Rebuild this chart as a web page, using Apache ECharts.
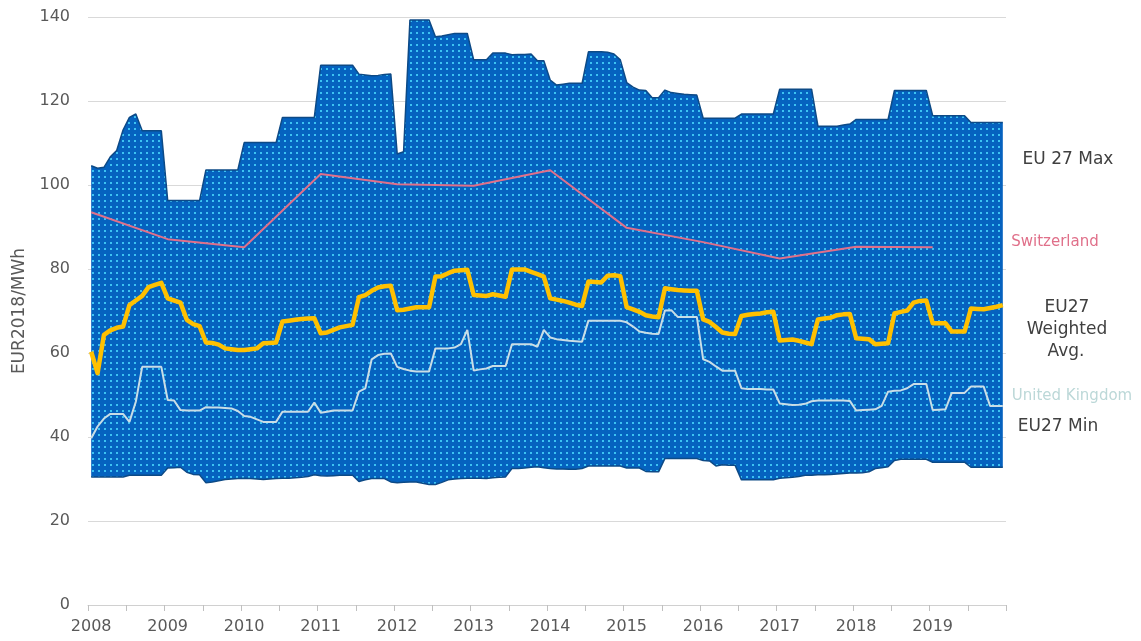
<!DOCTYPE html>
<html>
<head>
<meta charset="utf-8">
<script src="https://cdn.jsdelivr.net/npm/echarts@6/dist/echarts.min.js"></script>
<style>
  body { margin: 0; background: #fff; }
  #main { width: 1141px; height: 641px; }
</style>
</head>
<body>
<div id="main"></div>
<script>
// monthly categories 2008-01 .. 2019-12
const years = [2008, 2009, 2010, 2011, 2012, 2013, 2014, 2015, 2016, 2017, 2018, 2019]
const months = []
years.forEach(y => {
  for (let m = 1; m <= 12; m++) months.push(y + '-' + (m < 10 ? '0' + m : m))
})

// EUR2018/MWh, one row per year
const eu27Max = [
  104.6, 104.0, 104.2, 106.7, 108.2, 113.1, 116.1, 116.9, 112.9, 112.9, 112.9, 112.9,
  96.3, 96.3, 96.3, 96.3, 96.3, 96.3, 103.6, 103.6, 103.6, 103.6, 103.6, 103.6,
  110.1, 110.1, 110.1, 110.1, 110.1, 110.1, 116.1, 116.1, 116.1, 116.1, 116.1, 116.1,
  128.5, 128.5, 128.5, 128.5, 128.5, 128.5, 126.4, 126.2, 126.0, 126.1, 126.3, 126.4,
  107.4, 107.9, 139.3, 139.3, 139.3, 139.3, 135.3, 135.5, 135.8, 136.1, 136.1, 136.1,
  129.8, 129.8, 129.8, 131.4, 131.4, 131.4, 131.0, 131.1, 131.1, 131.2, 129.6, 129.6,
  125.0, 123.8, 124.0, 124.2, 124.2, 124.2, 131.7, 131.7, 131.7, 131.6, 131.2, 129.8,
  124.4, 123.3, 122.6, 122.5, 120.8, 120.8, 122.6, 122.0, 121.8, 121.6, 121.5, 121.4,
  115.9, 115.9, 115.9, 115.9, 115.9, 115.9, 116.9, 116.9, 116.9, 116.9, 116.9, 116.9,
  122.8, 122.8, 122.8, 122.8, 122.8, 122.8, 114.0, 114.0, 114.0, 114.0, 114.3, 114.5,
  115.6, 115.6, 115.6, 115.6, 115.6, 115.6, 122.5, 122.5, 122.5, 122.5, 122.5, 122.5,
  116.5, 116.5, 116.5, 116.5, 116.5, 116.5, 114.9, 114.9, 114.9, 114.9, 114.9, 114.9
]
const eu27Min = [
  30.5, 30.5, 30.5, 30.5, 30.5, 30.5, 30.9, 30.9, 30.9, 30.9, 30.9, 30.9,
  32.6, 32.7, 32.8, 31.6, 31.1, 31.0, 29.1, 29.3, 29.6, 29.9, 30.0, 30.1,
  30.2, 30.1, 30.0, 29.9, 30.0, 30.1, 30.2, 30.2, 30.3, 30.4, 30.6, 31.0,
  30.8, 30.7, 30.8, 30.9, 30.9, 30.9, 29.4, 29.8, 30.1, 30.1, 30.1, 29.3,
  29.1, 29.2, 29.3, 29.3, 29.0, 28.7, 28.7, 29.2, 29.8, 30.0, 30.1, 30.2,
  30.2, 30.2, 30.1, 30.3, 30.4, 30.5, 32.5, 32.5, 32.6, 32.8, 32.9, 32.7,
  32.5, 32.4, 32.4, 32.3, 32.3, 32.5, 33.1, 33.1, 33.1, 33.1, 33.1, 33.1,
  32.6, 32.6, 32.6, 31.8, 31.7, 31.7, 34.9, 34.9, 34.9, 34.9, 34.9, 34.9,
  34.4, 34.3, 33.1, 33.4, 33.3, 33.3, 29.8, 29.8, 29.8, 29.8, 29.8, 29.8,
  30.2, 30.3, 30.4, 30.6, 30.9, 30.9, 31.0, 31.0, 31.1, 31.2, 31.3, 31.4,
  31.4, 31.5, 31.7, 32.5, 32.7, 32.9, 34.4, 34.7, 34.7, 34.7, 34.7, 34.7,
  34.0, 34.0, 34.0, 34.0, 34.0, 34.0, 32.8, 32.8, 32.8, 32.8, 32.8, 32.8
]
const eu27Avg = [
  60.3, 55.2, 64.3, 65.4, 66.0, 66.3, 71.4, 72.5, 73.6, 75.7, 76.2, 76.7,
  73.0, 72.5, 72.0, 67.9, 66.9, 66.4, 62.5, 62.4, 62.0, 61.1, 60.9, 60.7,
  60.7, 60.9, 61.1, 62.3, 62.4, 62.5, 67.5, 67.7, 67.9, 68.1, 68.2, 68.3,
  64.7, 64.9, 65.5, 66.1, 66.4, 66.7, 73.3, 73.8, 74.8, 75.6, 75.9, 76.0,
  70.2, 70.3, 70.6, 70.9, 70.9, 70.9, 78.2, 78.3, 79.0, 79.6, 79.7, 79.8,
  73.8, 73.7, 73.6, 74.0, 73.7, 73.4, 79.9, 79.9, 79.9, 79.3, 78.8, 78.2,
  73.0, 72.7, 72.4, 72.0, 71.5, 71.2, 77.0, 76.9, 76.8, 78.4, 78.5, 78.3,
  70.9, 70.4, 69.8, 69.0, 68.7, 68.5, 75.4, 75.2, 75.0, 74.9, 74.8, 74.8,
  68.0, 67.4, 66.2, 64.9, 64.6, 64.5, 68.8, 69.1, 69.3, 69.4, 69.7, 69.8,
  63.0, 63.1, 63.2, 62.9, 62.5, 62.1, 68.0, 68.2, 68.4, 69.0, 69.2, 69.3,
  63.5, 63.4, 63.3, 62.1, 62.2, 62.3, 69.4, 69.8, 70.1, 72.0, 72.4, 72.5,
  67.1, 67.1, 67.1, 65.1, 65.1, 65.1, 70.6, 70.5, 70.4, 70.7, 71.0, 71.4
]
const ukPrice = [
  39.7, 42.5, 44.4, 45.5, 45.5, 45.5, 43.6, 48.4, 56.7, 56.7, 56.7, 56.7,
  48.8, 48.7, 46.4, 46.3, 46.3, 46.3, 47.1, 47.0, 47.0, 46.9, 46.8, 46.2,
  45.0, 44.8, 44.2, 43.6, 43.6, 43.6, 46.0, 46.0, 46.0, 46.0, 46.0, 48.2,
  45.8, 46.0, 46.3, 46.3, 46.3, 46.3, 50.8, 51.6, 58.5, 59.5, 59.8, 59.9,
  56.7, 56.2, 55.8, 55.6, 55.6, 55.6, 61.1, 61.1, 61.1, 61.3, 62.1, 65.5,
  55.8, 56.1, 56.3, 56.9, 56.9, 56.9, 62.1, 62.1, 62.1, 62.1, 61.5, 65.5,
  63.7, 63.3, 63.1, 62.9, 62.8, 62.7, 67.7, 67.7, 67.7, 67.7, 67.7, 67.7,
  67.3, 66.3, 65.1, 64.8, 64.6, 64.5, 70.1, 70.2, 68.6, 68.6, 68.6, 68.6,
  58.5, 57.9, 56.8, 55.8, 55.8, 55.8, 51.6, 51.4, 51.4, 51.4, 51.3, 51.3,
  48.0, 47.8, 47.6, 47.7, 47.9, 48.5, 48.7, 48.7, 48.7, 48.7, 48.7, 48.6,
  46.3, 46.4, 46.5, 46.6, 47.4, 50.8, 51.0, 51.1, 51.6, 52.6, 52.6, 52.6,
  46.4, 46.5, 46.6, 50.5, 50.5, 50.5, 52.0, 52.0, 52.0, 47.4, 47.4, 47.4
]
// annual, placed on January of each year
const swissPrice = [93.5, 87.1, 85.2, 102.6, 100.2, 99.8, 103.5, 89.8, 86.4, 82.5, 85.3, 85.2]

const bandSpread = eu27Max.map((v, i) => +(v - eu27Min[i]).toFixed(2))
const swissMonthly = months.map((m, i) => (i % 12 === 0 ? swissPrice[i / 12] : null))

// dotted fill for the min-max band
const tile = document.createElement('canvas')
tile.width = 6
tile.height = 6
const tctx = tile.getContext('2d')
tctx.fillStyle = '#0562bf'
tctx.fillRect(0, 0, 6, 6)
tctx.fillStyle = '#3cc2f2'
tctx.fillRect(2, 2, 2, 2)

var myChart = echarts.init(document.getElementById('main'))
var option = {
  animation: false,
  textStyle: { fontFamily: 'DejaVu Sans' },
  grid: { left: 88, right: 135, top: 17, bottom: 36 },
  xAxis: {
    type: 'category',
    data: months,
    boundaryGap: true,
    axisLine: { lineStyle: { color: '#d0d0d0', width: 1 } },
    axisTick: { show: true, interval: 5, length: 6, lineStyle: { color: '#c0c0c0', width: 1 } },
    axisLabel: {
      interval: 11,
      margin: 14,
      color: '#595959',
      fontSize: 16,
      formatter: v => v.slice(0, 4)
    },
    splitLine: { show: false }
  },
  yAxis: {
    type: 'value',
    min: 0,
    max: 140,
    interval: 20,
    name: 'EUR2018/MWh',
    nameLocation: 'middle',
    nameGap: 57,
    nameTextStyle: { color: '#595959', fontSize: 17 },
    axisLine: { show: false },
    axisTick: { show: false },
    axisLabel: { color: '#595959', fontSize: 16, margin: 18 },
    splitLine: { lineStyle: { color: '#d9d9d9', width: 1 } }
  },
  series: [
    {
      name: 'EU27 Min',
      type: 'line',
      stack: 'band',
      data: eu27Min,
      symbol: 'none',
      lineStyle: { color: '#0d4a86', width: 1.5 }
    },
    {
      name: 'EU 27 Max',
      type: 'line',
      stack: 'band',
      data: bandSpread,
      symbol: 'none',
      lineStyle: { color: '#0d4a86', width: 1.5 },
      areaStyle: { color: { image: tile, repeat: 'repeat' }, opacity: 1 }
    },
    {
      name: 'Switzerland',
      type: 'line',
      data: swissMonthly,
      connectNulls: true,
      symbol: 'none',
      lineStyle: { color: '#e0708a', width: 2 }
    },
    {
      name: 'United Kingdom',
      type: 'line',
      data: ukPrice,
      symbol: 'none',
      lineStyle: { color: '#c9dde6', width: 2 }
    },
    {
      name: 'EU27 Weighted Avg.',
      type: 'line',
      data: eu27Avg,
      symbol: 'none',
      lineStyle: { color: '#ffc000', width: 4.5, join: 'round' }
    }
  ],
  graphic: [
    { type: 'text', x: 1068, y: 160, style: { text: 'EU 27 Max', fill: '#404040', font: '17px DejaVu Sans', align: 'center', verticalAlign: 'middle' } },
    { type: 'text', x: 1055, y: 242, style: { text: 'Switzerland', fill: '#e0708a', font: '15px DejaVu Sans', align: 'center', verticalAlign: 'middle' } },
    { type: 'text', x: 1067, y: 308, style: { text: 'EU27', fill: '#404040', font: '17px DejaVu Sans', align: 'center', verticalAlign: 'middle' } },
    { type: 'text', x: 1067, y: 330, style: { text: 'Weighted', fill: '#404040', font: '17px DejaVu Sans', align: 'center', verticalAlign: 'middle' } },
    { type: 'text', x: 1066, y: 352, style: { text: 'Avg.', fill: '#404040', font: '17px DejaVu Sans', align: 'center', verticalAlign: 'middle' } },
    { type: 'text', x: 1072, y: 396, style: { text: 'United Kingdom', fill: '#bcd8d8', font: '15px DejaVu Sans', align: 'center', verticalAlign: 'middle' } },
    { type: 'text', x: 1058, y: 427, style: { text: 'EU27 Min', fill: '#404040', font: '17px DejaVu Sans', align: 'center', verticalAlign: 'middle' } }
  ]
}

option && myChart.setOption(option)
</script>
</body>
</html>
